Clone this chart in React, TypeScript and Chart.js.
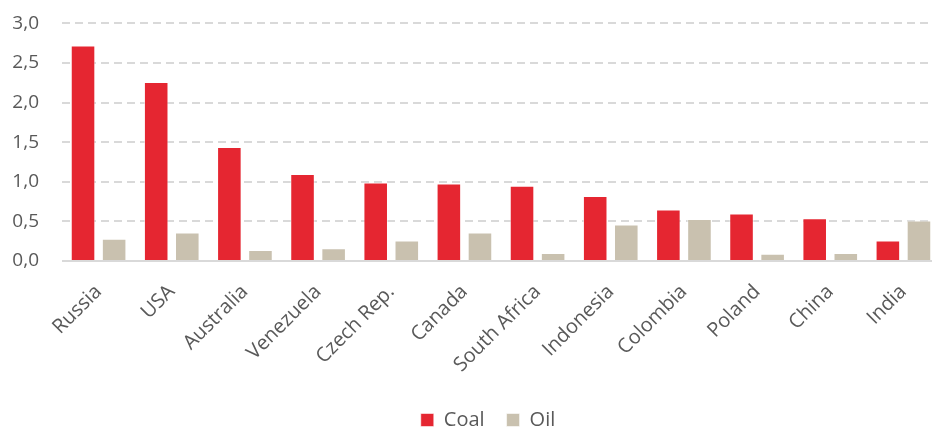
import React, { useEffect, useRef } from "react";
import { Chart, registerables } from "chart.js";

Chart.register(...registerables);

const categories = ["Russia", "USA", "Australia", "Venezuela", "Czech Rep.", "Canada", "South Africa", "Indonesia", "Colombia", "Poland", "China", "India"];
const coal = [2.72, 2.26, 1.44, 1.1, 0.99, 0.98, 0.95, 0.82, 0.65, 0.6, 0.54, 0.26];
const oil = [0.28, 0.36, 0.14, 0.16, 0.26, 0.36, 0.1, 0.46, 0.53, 0.09, 0.1, 0.51];
const seriesNames = ["Coal", "Oil"];

const FONT = "'Open Sans', sans-serif";
const TEXT = "#595959";

const shiftLegend = {
  id: "shiftLegend",
  afterLayout(chart: any) {
    if (chart.legend) {
      chart.legend.left += 18;
      chart.legend.right += 18;
    }
  },
};

export default function App() {
  const ref = useRef<HTMLCanvasElement | null>(null);
  useEffect(() => {
    if (!ref.current) return;
    const chart = new Chart(ref.current, {
      type: "bar",
      data: {
        labels: categories,
        datasets: [
          { label: seriesNames[0], data: coal, backgroundColor: "#E52631", borderColor: "rgba(255,255,255,0.55)", borderWidth: 1, categoryPercentage: 0.85, barPercentage: 0.79 },
          { label: seriesNames[1], data: oil, backgroundColor: "#C9C1AF", borderColor: "rgba(255,255,255,0.55)", borderWidth: 1, categoryPercentage: 0.85, barPercentage: 0.79 },
        ],
      },
      plugins: [shiftLegend],
      options: {
        animation: false,
        responsive: true,
        maintainAspectRatio: false,
        layout: { padding: { top: 4, left: 0, right: 0, bottom: 0 } },
        plugins: {
          tooltip: { enabled: false },
          legend: {
            position: "bottom",
            labels: { font: { family: FONT, size: 20 }, color: TEXT, boxWidth: 13, boxHeight: 13, padding: 22 },
          },
        },
        scales: {
          x: {
            afterFit: (s: any) => { s.height = 127; },
            grid: { display: false },
            border: { display: false },
            ticks: { font: { family: FONT, size: 20 }, color: TEXT, autoSkip: false, maxRotation: 45, minRotation: 45, padding: 11 },
          },
          y: {
            min: 0,
            max: 3,
            afterFit: (s: any) => { s.width = 62; },
            grid: { color: "#D9D9D9", lineWidth: 2, drawTicks: false },
            border: { display: false, dash: (c: any) => (c.tick && c.tick.value === 0 ? [] : [8, 5]) },
            ticks: {
              stepSize: 0.5,
              padding: 23,
              font: { family: FONT, size: 19 },
              color: TEXT,
              callback: (v: any) => Number(v).toFixed(1).replace(".", ","),
            },
          },
        },
      },
    });
    return () => chart.destroy();
  }, []);
  return (
    <div style={{ position: "fixed", left: 0, top: 0, width: 932, height: 429, overflow: "hidden", background: "#fff" }}>
      <div style={{ width: 940, height: 451, position: "relative", top: -11 }}>
        <canvas ref={ref} />
      </div>
    </div>
  );
}
